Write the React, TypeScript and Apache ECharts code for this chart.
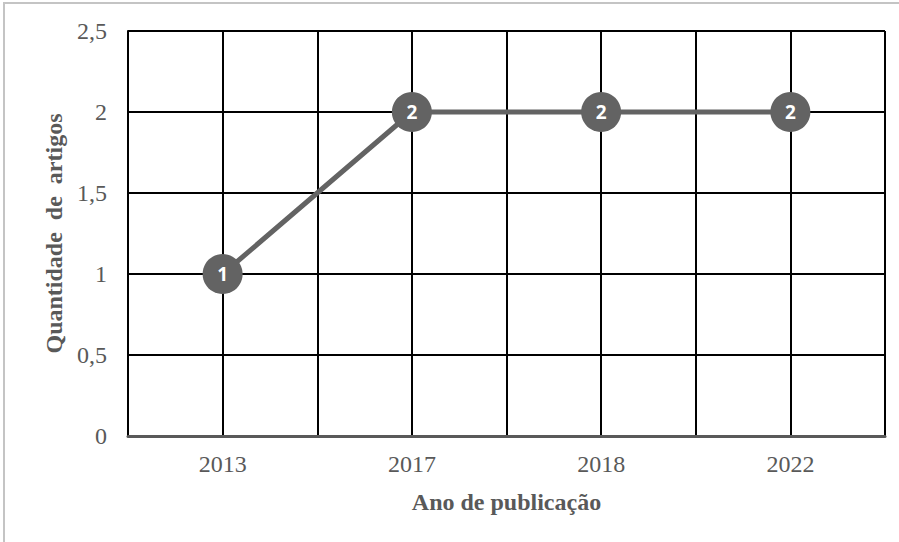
import React, { useEffect, useRef } from "react";
import * as echarts from "echarts";

// Publications per year
const years = ["2013", "2017", "2018", "2022"];
const articleCounts = [1, 2, 2, 2];
const yTicks = { min: 0, max: 2.5, interval: 0.5 };

const textGray = "#595959";
const markGray = "#636363";
const serif = "'Liberation Serif', 'Times New Roman', serif";

export default function App() {
  const ref = useRef<HTMLDivElement>(null);

  useEffect(() => {
    if (!ref.current) return;
    const chart = echarts.init(ref.current, null, { renderer: "svg" });
    chart.setOption({
      animation: false,
      backgroundColor: "#ffffff",
      grid: { left: 128, right: 14, top: 31, bottom: 106, containLabel: false },
      graphic: [
        {
          type: "rect",
          shape: { x: 4, y: 3, width: 910, height: 560 },
          style: { fill: "none", stroke: "#c4c4c4", lineWidth: 2 },
          silent: true,
          z: -1,
        },
      ],
      xAxis: [
        {
          type: "category",
          data: years,
          boundaryGap: true,
          axisLine: { show: true, lineStyle: { color: textGray, width: 3 } },
          axisTick: { show: false },
          splitLine: { show: false },
          axisLabel: {
            color: textGray,
            fontFamily: serif,
            fontSize: 24,
            margin: 16,
          },
          name: "Ano de publicação",
          nameLocation: "middle",
          nameGap: 54,
          nameTextStyle: {
            color: textGray,
            fontFamily: serif,
            fontSize: 24,
            fontWeight: "bold",
          },
          z: 3,
        },
        {
          // half-band vertical gridlines
          type: "value",
          min: 0,
          max: years.length * 2,
          interval: 1,
          position: "bottom",
          axisLine: { show: false },
          axisTick: { show: false },
          axisLabel: { show: false },
          splitLine: { show: true, lineStyle: { color: "#000000", width: 2 } },
        },
      ],
      yAxis: {
        type: "value",
        min: yTicks.min,
        max: yTicks.max,
        interval: yTicks.interval,
        axisLine: { show: true, lineStyle: { color: "#000000", width: 2 } },
        axisTick: { show: false },
        splitLine: { show: true, lineStyle: { color: "#000000", width: 2 } },
        axisLabel: {
          color: textGray,
          fontFamily: serif,
          fontSize: 24,
          margin: 21,
          formatter: (v: number) => String(v).replace(".", ","),
        },
        name: "Quantidade  de  artigos",
        nameLocation: "middle",
        nameGap: 62,
        nameTextStyle: {
          color: textGray,
          fontFamily: serif,
          fontSize: 24,
          fontWeight: "bold",
        },
      },
      series: [
        {
          type: "line",
          xAxisIndex: 0,
          data: articleCounts,
          symbol: "circle",
          symbolSize: 40,
          lineStyle: { color: markGray, width: 5 },
          itemStyle: { color: markGray },
          label: {
            show: true,
            position: "inside",
            color: "#ffffff",
            fontFamily: "'Open Sans', sans-serif",
            fontWeight: "bold",
            fontSize: 19,
          },
          z: 5,
        },
      ],
    });
    return () => chart.dispose();
  }, []);

  return (
    <div
      ref={ref}
      style={{ position: "absolute", left: 0, top: 0, width: 899, height: 542 }}
    />
  );
}
